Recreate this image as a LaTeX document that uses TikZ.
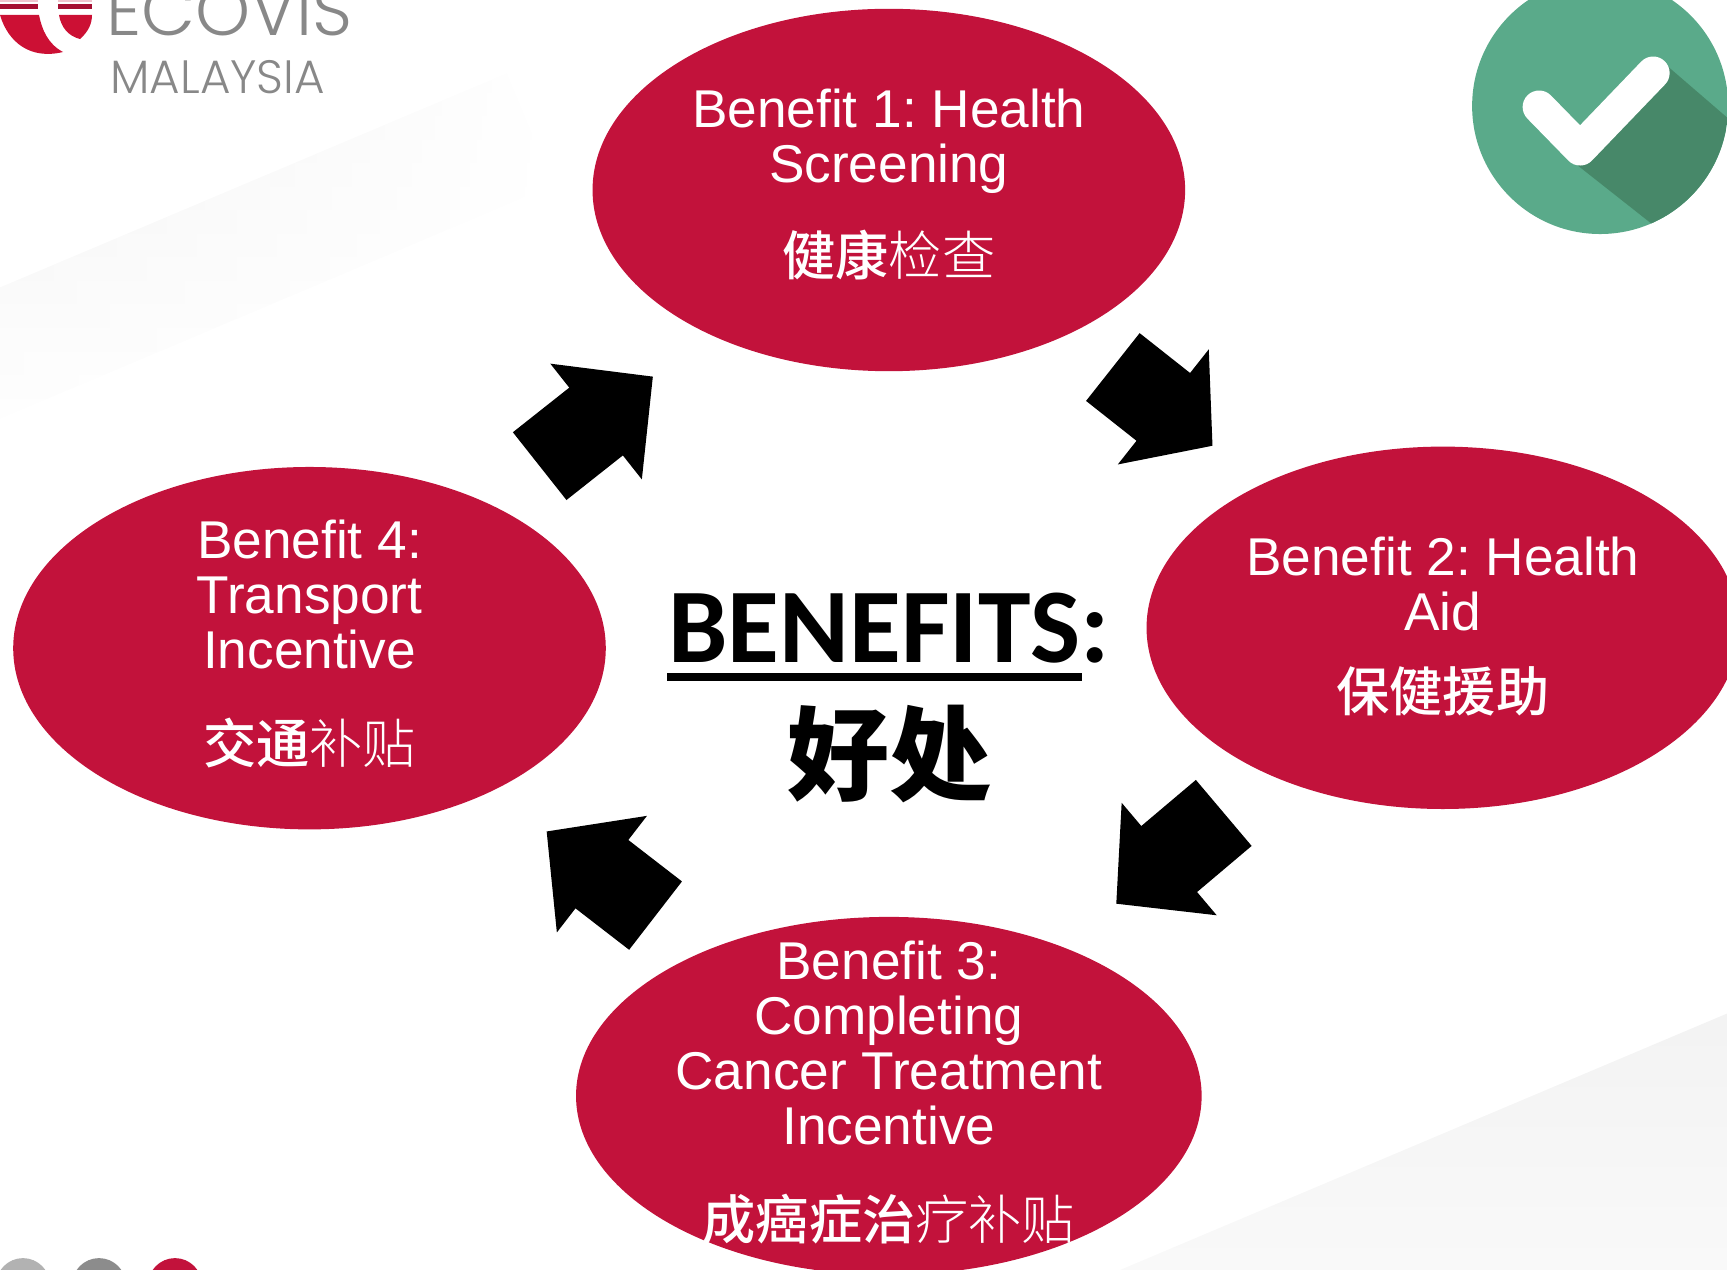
\documentclass[tikz,border=0pt]{standalone}
\usepackage{fontspec}
\usepackage{xcolor}
\setmainfont{Liberation Sans}
\newfontfamily\cjk{Noto Sans CJK SC}[UprightFont=* Medium]
\newfontfamily\cjkthin{Noto Sans CJK SC}[UprightFont=* Light]
\newfontfamily\headfont{Carlito}
\newfontfamily\logofont{Poppins}[UprightFont=* Light]
\usetikzlibrary{arrows.meta,shapes.geometric,fadings}
\definecolor{ecored}{RGB}{194,18,59}
\definecolor{logored}{RGB}{204,16,52}
\definecolor{logogrey}{RGB}{136,136,136}
\definecolor{tickgreen}{RGB}{90,170,138}
\definecolor{tickshadow}{RGB}{71,136,105}

\begin{document}
\frenchspacing
\begin{tikzpicture}[
    x=0.5507pt,
    y=-0.5507pt,
    benefit/.style={ellipse, fill=ecored, inner sep=0pt, outer sep=0pt, minimum width=296.3pt, minimum height=181.2pt},
    benefittext/.style={text=white, align=center, inner sep=0pt, font=\fontsize{26.6}{27.5}\selectfont},
    blockarrow/.style={draw=black, line width=43.2pt, -{Triangle[length=#1,width=71.6pt]}},
    dot/.style={circle, inner sep=0pt, minimum size=27pt}
]
\useasboundingbox (0,0) rectangle (1568,1153);
\clip (0,0) rectangle (1568,1153);

% Background wedges
\begin{scope}[shift={(0,261)}, rotate=22.9]
\shade[top color=black!6, bottom color=white, path fading=east] (-80,0) rectangle (500,110);
\end{scope}
\begin{scope}[shift={(1017,1153)}, rotate=22.9]
\shade[top color=black!5, bottom color=white] (0,0) rectangle (640,235);
\end{scope}

% Logo
\begin{scope}[scale=0.908]
\fill[logored] (0,15) .. controls (8,42) and (30,60) .. (63,52) .. controls (48,44) and (42,30) .. (39,15) -- cycle;
\fill[logored] (59,15) -- (92,15) .. controls (92,24) and (88,32) .. (80,39) .. controls (68,36) and (61,27) .. (59,15) -- cycle;
\fill[ecored!85!black] (0,4) rectangle (38,9);
\fill[ecored!85!black] (58,4) rectangle (92,9);
\fill[ecored!25] (0,0) rectangle (38,2);
\fill[ecored!25] (58,0) rectangle (92,2);
\node[text=logogrey, anchor=base west, inner sep=0pt, font=\logofont\fontsize{35}{35}\selectfont] (ecovis) at (106,35) {ECOVIS};
\node[text=logogrey, anchor=base west, inner sep=0pt, font=\logofont\fontsize{23.4}{24}\selectfont] (malaysia) at (110,93) {MALAYSIA};
\end{scope}

% Tick badge
\begin{scope}[scale=0.908]
\fill[tickgreen] (1600,106) circle (128);
\begin{scope}
\clip (1600,106) circle (128);
\fill[tickshadow] (1577,165) -- (1666,65) -- (1760,146) -- (1760,300) -- (1700,262) -- cycle;
\end{scope}
\draw[white, line width=16.5pt, line cap=round, line join=round] (1539,107) -- (1580,149) -- (1653,73);
\end{scope}

% Bottom dots
\begin{scope}[scale=0.908]
\node[dot, fill=black!30] (dotlight) at (23,1285) {};
\node[dot, fill=black!45] (dotgrey) at (99,1285) {};
\node[dot, fill=ecored] (dotred) at (175,1285) {};
\end{scope}

% Benefits
\node[benefit] (healthscreen) at (807,172.5) {};
\node[benefit] (healthaid) at (1310,570) {};
\node[benefit, minimum width=312.8pt, minimum height=179pt] (cancer) at (807,995) {};
\node[benefit] (transport) at (281,588.5) {};

\node[benefittext] (healthscreentext) at (807,167.5) {Benefit 1: Health\\Screening\\[17.7pt]{\cjk 健康}{\cjkthin 检查}};
\node[benefittext] (healthaidtext) at (1310,569) {Benefit 2: Health\\Aid\\[12.7pt]{\cjk 保健援助}};
\node[benefittext] (cancertext) at (807,992) {Benefit 3:\\Completing\\Cancer Treatment\\Incentive\\[20.4pt]{\cjk 成癌症治}{\cjkthin 疗补贴}};
\node[benefittext] (transporttext) at (281,584.5) {Benefit 4:\\Transport\\Incentive\\[19.9pt]{\cjk 交通}{\cjkthin 补贴}};

% Centre title
\node[inner sep=0pt, font=\headfont\bfseries\fontsize{53}{53}\selectfont] (title) at (807,570) {BENEFITS:};
\fill (606,611) rectangle (982,618);
\node[inner sep=0pt, font=\cjk\bfseries\fontsize{51}{51}\selectfont] (titlecjk) at (808,685) {好处};

% Flow between benefits
\draw[blockarrow=31.4pt, shorten <=27.2pt, shorten >=31.2pt] (healthscreen) -- (healthaid);
\draw[blockarrow=34.7pt, shorten <=29.7pt, shorten >=34pt] (healthaid) -- (cancer);
\draw[blockarrow=35pt, shorten <=29.8pt, shorten >=33.6pt] (cancer) -- (transport);
\draw[blockarrow=36.3pt, shorten <=31.2pt, shorten >=34.8pt] (transport) -- (healthscreen);

\end{tikzpicture}
\end{document}
